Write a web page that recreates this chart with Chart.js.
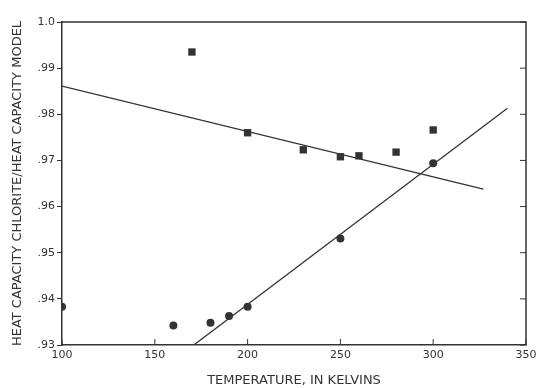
<!DOCTYPE html>
<html>
<head>
<meta charset="utf-8">
<script src="https://cdn.jsdelivr.net/npm/chart.js@4/dist/chart.umd.min.js"></script>
<style>
  html, body { margin: 0; padding: 0; background: #fff; }
  #wrap { width: 537px; height: 388px; }
</style>
</head>
<body>
<div id="wrap"><canvas id="chart" width="537" height="388"></canvas></div>
<script>
// values
const squareTemps = [170, 200, 230, 250, 260, 280, 300];
const squareRatios = [0.9935, 0.976, 0.9723, 0.9708, 0.9710, 0.9718, 0.9766];

const circleTemps = [100, 160, 180, 190, 200, 250, 300];
const circleRatios = [0.9383, 0.9342, 0.9348, 0.9363, 0.9383, 0.9531, 0.9694];

// fitted lines (end points)
const fallLineTemps = [100, 327];
const fallLineRatios = [0.9861, 0.9638];
const riseLineTemps = [171, 340];
const riseLineRatios = [0.93, 0.9813];

const xTicks = [100, 150, 200, 250, 300, 350];
const yTicks = [0.93, 0.94, 0.95, 0.96, 0.97, 0.98, 0.99, 1.0];

const ink = '#333';
const font = { family: 'DejaVu Sans', size: 11 };
const titleFont = { family: 'DejaVu Sans', size: 13 };

function pts(xs, ys) {
    return xs.map(function (x, i) { return { x: x, y: ys[i] }; });
}

// frame + inward ticks on right and bottom
const framePlugin = {
    id: 'frame',
    afterDraw: function (chart) {
        const ctx = chart.ctx;
        const a = chart.chartArea;
        const xs = chart.scales.x, ys = chart.scales.y;
        ctx.save();
        ctx.strokeStyle = ink;
        ctx.lineWidth = 1.5;
        ctx.beginPath();
        ctx.moveTo(a.left, a.top);
        ctx.lineTo(a.right, a.top);
        ctx.lineTo(a.right, a.bottom);
        ctx.stroke();
        ctx.lineWidth = 1;
        ctx.beginPath();
        yTicks.forEach(function (v) {
            const py = ys.getPixelForValue(v);
            ctx.moveTo(a.right, py);
            ctx.lineTo(a.right - 6, py);
        });
        xTicks.forEach(function (v) {
            const px = xs.getPixelForValue(v);
            ctx.moveTo(px, a.bottom);
            ctx.lineTo(px, a.bottom - 6);
        });
        ctx.stroke();
        ctx.restore();
    }
};

new Chart(document.getElementById('chart').getContext('2d'), {
    type: 'scatter',
    data: {
        datasets: [
            {
                label: 'squares',
                data: pts(squareTemps, squareRatios),
                pointStyle: 'rect',
                pointRadius: 5.2,
                backgroundColor: ink,
                borderColor: ink,
                borderWidth: 0
            },
            {
                label: 'circles',
                data: pts(circleTemps, circleRatios),
                pointStyle: 'circle',
                pointRadius: 4,
                backgroundColor: ink,
                borderColor: ink,
                borderWidth: 0
            },
            {
                label: 'fall',
                data: pts(fallLineTemps, fallLineRatios),
                showLine: true,
                pointRadius: 0,
                borderColor: ink,
                borderWidth: 1.3
            },
            {
                label: 'rise',
                data: pts(riseLineTemps, riseLineRatios),
                showLine: true,
                pointRadius: 0,
                borderColor: ink,
                borderWidth: 1.3
            }
        ]
    },
    options: {
        responsive: false,
        animation: false,
        layout: { padding: { left: 0, right: 11, top: 22, bottom: 0 } },
        plugins: {
            legend: { display: false },
            tooltip: { enabled: false }
        },
        scales: {
            x: {
                type: 'linear',
                min: 100,
                max: 350,
                afterBuildTicks: function (s) { s.ticks = xTicks.map(function (v) { return { value: v }; }); },
                afterFit: function (s) { s.height = 43; s.paddingLeft = 0; s.paddingRight = 0; },
                grid: { display: true, drawOnChartArea: false, drawTicks: false },
                border: { color: ink, width: 1.5 },
                ticks: { color: ink, font: font, padding: 4 },
                title: {
                    display: true,
                    text: 'TEMPERATURE, IN KELVINS',
                    color: ink,
                    font: titleFont,
                    padding: { top: 6, bottom: 0 }
                }
            },
            y: {
                min: 0.93,
                max: 1.0,
                afterBuildTicks: function (s) { s.ticks = yTicks.map(function (v) { return { value: v }; }); },
                afterFit: function (s) { s.width = 62; s.paddingTop = 0; s.paddingBottom = 0; },
                grid: { display: true, drawOnChartArea: false, drawTicks: true, tickLength: 5, color: ink },
                border: { color: ink, width: 1.5 },
                ticks: {
                    color: ink,
                    font: font,
                    padding: 2,
                    callback: function (v) {
                        return v >= 0.999 ? '1.0' : '.' + v.toFixed(2).slice(2);
                    }
                },
                title: {
                    display: true,
                    text: 'HEAT CAPACITY CHLORITE/HEAT CAPACITY MODEL',
                    color: ink,
                    font: titleFont,
                    padding: { top: 10, bottom: 0 }
                }
            }
        }
    },
    plugins: [framePlugin]
});
</script>
</body>
</html>
